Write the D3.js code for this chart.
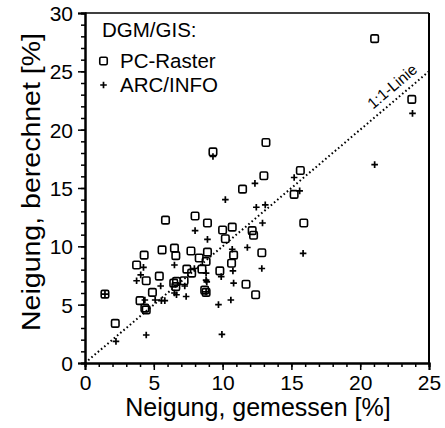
<!DOCTYPE html>
<html><head><meta charset="utf-8">
<script src="https://cdn.jsdelivr.net/npm/d3@7"></script>
<style>body{margin:0;background:#fff}svg{display:block}text{font-family:"Liberation Sans",Arial,sans-serif;fill:#000}</style>
</head><body>
<script>
// PC-Raster (squares): measured, calculated slope
const pcX = [1.45,2.2,3.75,4.0,4.3,4.35,4.45,4.45,4.9,5.4,5.6,5.85,6.45,6.5,6.6,6.6,6.65,7.2,7.4,7.7,7.75,8.0,8.3,8.5,8.7,8.8,8.8,8.9,8.9,9.3,9.8,10.0,10.2,10.65,10.7,10.8,11.45,11.7,12.15,12.25,12.4,12.85,13.0,13.15,15.2,15.65,15.9,21.05,23.75];
const pcY = [5.9,3.4,8.4,5.35,9.25,4.7,4.55,7.05,6.05,7.45,9.7,12.25,6.85,9.85,9.2,6.55,7.0,7.05,8.05,9.6,7.7,12.6,9.0,8.05,6.25,8.7,6.05,9.5,12.0,18.1,7.9,11.4,10.65,8.55,11.65,9.25,14.9,6.75,11.35,10.95,5.85,9.45,16.05,18.9,14.45,16.5,12.0,27.8,22.6];
// ARC/INFO (plus)
const arcX = [1.45,2.25,3.75,4.05,4.25,4.35,4.45,5.1,5.5,5.55,5.8,6.5,6.5,6.65,7.25,7.35,7.95,8.0,8.8,8.8,8.85,8.8,8.9,9.3,9.7,9.9,9.95,10.2,10.6,10.7,10.75,10.8,11.8,12.35,12.45,12.85,12.9,13.1,15.2,15.6,15.85,21.05,23.8];
const arcY = [5.9,1.85,7.05,7.55,8.2,5.4,2.4,5.4,6.6,5.35,5.35,8.4,6.0,5.85,6.6,5.7,8.1,11.35,7.7,7.1,6.95,6.1,10.6,17.7,5.0,7.4,2.45,14.0,5.4,9.75,7.9,6.85,9.9,15.4,13.35,8.1,12.0,13.55,15.9,14.75,9.4,17.0,21.4];
const xTicks = [0,5,10,15,20,25];
const yTicks = [0,5,10,15,20,25,30];
const xLabel = "Neigung, gemessen [%]";
const yLabel = "Neigung, berechnet [%]";
const legendTitle = "DGM/GIS:";
const seriesNames = ["PC-Raster","ARC/INFO"];
const lineLabel = "1:1-Linie";

const W=445,H=428;
const L=85,R=429,T=13,B=363;
const svg=d3.select("body").append("svg").attr("width",W).attr("height",H);
const x=d3.scaleLinear().domain([0,25]).range([L,R]);
const y=d3.scaleLinear().domain([0,30]).range([B,T]);

// frame
svg.append("line").attr("x1",L).attr("x2",R).attr("y1",T).attr("y2",T).attr("stroke","#000").attr("stroke-width",1.6);
svg.append("line").attr("x1",R).attr("x2",R).attr("y1",T).attr("y2",B).attr("stroke","#000").attr("stroke-width",2);

// axes
const xAxisMinor=d3.axisBottom(x).tickValues(d3.range(0,26,1)).tickSize(4).tickFormat("");
const gxm=svg.append("g").attr("transform",`translate(0,${B})`).call(xAxisMinor);
const xAxis=d3.axisBottom(x).tickValues(xTicks).tickSize(7).tickPadding(5).tickFormat(d3.format("d"));
const gx=svg.append("g").attr("transform",`translate(0,${B})`).call(xAxis);
const yAxisMinor=d3.axisLeft(y).tickValues(d3.range(0,31,1)).tickSize(4).tickFormat("");
const gym=svg.append("g").attr("transform",`translate(${L},0)`).call(yAxisMinor);
const yAxis=d3.axisLeft(y).tickValues(yTicks).tickSize(7).tickPadding(5).tickFormat(d3.format("d"));
const gy=svg.append("g").attr("transform",`translate(${L},0)`).call(yAxis);
[gx,gy,gxm,gym].forEach(g=>{
  g.selectAll(".domain").attr("stroke","#000").attr("stroke-width",2);
  g.selectAll(".tick line").attr("stroke","#000").attr("stroke-width",1.5);
  g.selectAll("text").style("font-size","21px").attr("fill","#000");
});
gx.selectAll("text").attr("dy","0.71em");
gy.selectAll("text").attr("dy","0.36em");

// axis labels
svg.append("text").attr("x",(121+395)/2).attr("y",416).attr("text-anchor","middle").style("font-size","25px").text(xLabel);
svg.append("text").attr("transform","translate(40,182) rotate(-90)").attr("text-anchor","middle")
  .style("font-size","26px").attr("textLength",298).attr("lengthAdjust","spacingAndGlyphs").text(yLabel);

// 1:1 line
svg.append("line").attr("x1",x(0)).attr("y1",y(0)).attr("x2",x(25)).attr("y2",y(25))
  .attr("stroke","#000").attr("stroke-width",2).attr("stroke-dasharray","1.6,2.6");
const ang=Math.atan2(y(25)-y(0),x(25)-x(0))*180/Math.PI;
const lx=x(22.9), ly=y(22.9);
svg.append("text").attr("transform",`translate(${lx},${ly}) rotate(${ang}) translate(0,-7)`)
  .attr("text-anchor","middle").style("font-size","15.5px").text(lineLabel);

// markers
const sq=7.5;
function square(g,cx,cy){g.append("rect").attr("x",cx-sq/2).attr("y",cy-sq/2).attr("width",sq).attr("height",sq).attr("rx",1.4)
  .attr("fill","none").attr("stroke","#000").attr("stroke-width",1.6);}
function plus(g,cx,cy){const s=3.3;g.append("path").attr("d",`M${cx-s},${cy}H${cx+s}M${cx},${cy-s}V${cy+s}`)
  .attr("stroke","#000").attr("stroke-width",1.7).attr("fill","none");}
const gp=svg.append("g");
pcX.forEach((v,i)=>square(gp,x(v),y(pcY[i])));
arcX.forEach((v,i)=>plus(gp,x(v),y(arcY[i])));

// legend
svg.append("text").attr("x",102).attr("y",37).style("font-size","20.5px").text(legendTitle);
square(svg,103.5,61);
plus(svg,103.5,85);
svg.append("text").attr("x",120).attr("y",68).style("font-size","20.5px").text(seriesNames[0]);
svg.append("text").attr("x",120).attr("y",92).style("font-size","20.5px").text(seriesNames[1]);
</script>
</body></html>
